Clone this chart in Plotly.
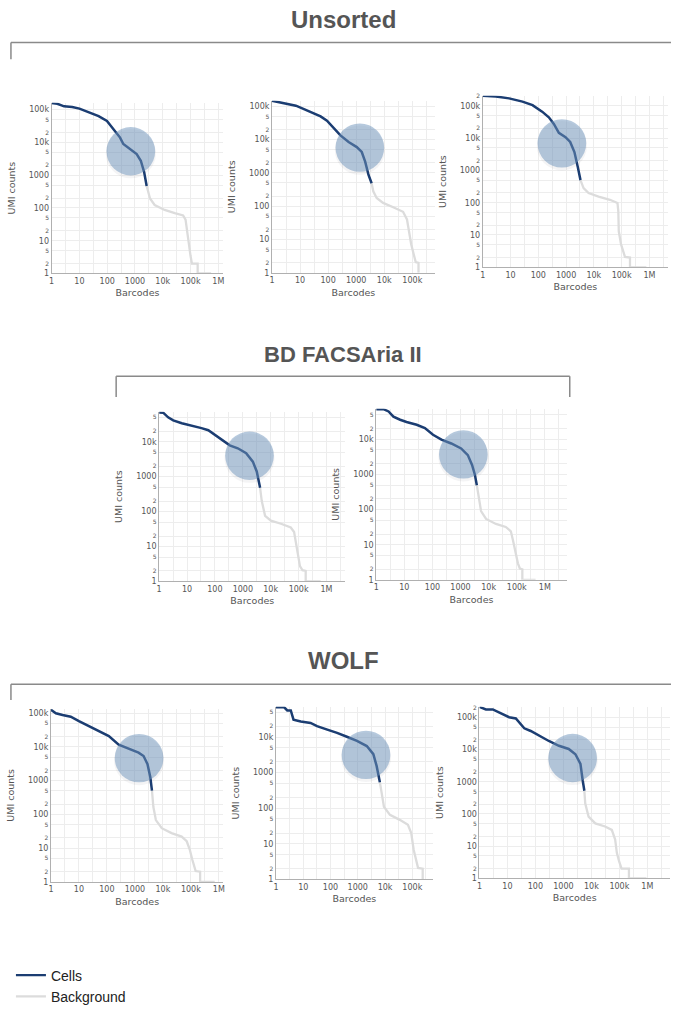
import math
import plotly.graph_objects as go

# ---------------- data ----------------
GROUP_TITLES = ["Unsorted", "BD FACSAria II", "WOLF"]
X_TITLE = "Barcodes"
Y_TITLE = "UMI counts"
SERIES_NAMES = ["Cells", "Background"]

# Unsorted, sample 1
U1_CELL_BC = [1, 1.6, 2.8, 5.5, 10, 21, 49, 98, 195, 290, 380, 660, 1150, 1620, 2140, 2630]
U1_CELL_UMI = [160000, 150000, 126000, 120000, 107000, 85000, 63000, 45000, 22000, 14000, 8900, 6300, 4400, 2750, 1230, 470]
U1_BG_BC = [2630, 3470, 5100, 11700, 27000, 54000, 66000, 74000, 85000, 100000, 112000, 180000, 180000, 550000]
U1_BG_UMI = [470, 195, 123, 87, 69, 59, 44, 19.5, 7.6, 3.4, 2, 2, 1, 1]
# Unsorted, sample 2
U2_CELL_BC = [1, 1.8, 3.5, 7.1, 13.8, 31, 54, 91, 158, 275, 537, 1050, 1580, 2090, 2750, 3550]
U2_CELL_UMI = [148000, 132000, 117000, 105000, 83000, 62000, 50000, 37000, 22400, 13500, 8500, 6000, 4270, 2190, 870, 490]
U2_BG_BC = [3550, 4070, 5370, 9100, 20900, 46800, 64600, 75900, 91200, 112000, 132000, 166000, 166000]
U2_BG_UMI = [490, 282, 178, 126, 93, 68, 40, 18, 7.2, 3.6, 2.1, 2, 1]
# Unsorted, sample 3
U3_CELL_BC = [1, 3, 8.9, 27, 62, 138, 240, 363, 550, 955, 1410, 2000, 2630, 3310]
U3_CELL_UMI = [204000, 195000, 170000, 135000, 105000, 66000, 44000, 27500, 14500, 10700, 7600, 3700, 1290, 500]
U3_BG_BC = [3310, 4270, 6460, 14800, 38000, 71000, 76000, 79000, 95500, 115000, 132000, 200000, 200000, 776000]
U3_BG_UMI = [500, 282, 200, 155, 123, 98, 54, 13, 5.1, 2.9, 2.1, 2, 1, 1]
# BD FACSAria II, sample 1
B1_CELL_BC = [1, 1.4, 2.1, 3.2, 6.5, 14.5, 33, 58, 100, 170, 340, 660, 1320, 2290, 3160, 4170]
B1_CELL_UMI = [69000, 68000, 50000, 41000, 34000, 29500, 24500, 21400, 15800, 11200, 7900, 6500, 4700, 2700, 1410, 480]
B1_BG_BC = [4170, 4790, 6300, 10200, 23400, 52500, 69000, 83000, 98000, 112000, 138000, 180000, 180000, 617000]
B1_BG_UMI = [480, 200, 76, 55, 45, 35, 26, 12, 5.1, 2.75, 2.1, 2, 1, 1]
# BD FACSAria II, sample 2
B2_CELL_BC = [1, 1.8, 2.75, 4.1, 7.1, 12, 27.5, 54, 105, 209, 468, 1050, 1820, 2570, 3240, 3800]
B2_CELL_UMI = [72000, 72000, 62000, 44000, 36000, 31000, 26000, 21000, 13500, 9800, 7600, 5500, 3550, 1860, 980, 490]
B2_BG_BC = [3800, 4470, 5370, 8100, 18200, 40700, 61700, 74000, 91200, 110000, 129000, 158000, 158000, 468000]
B2_BG_UMI = [490, 219, 91, 54, 39, 32, 24, 13, 5.6, 2.95, 2.1, 2, 1, 1]
# WOLF, sample 1
W1_CELL_BC = [1, 1.5, 2.6, 5.1, 10, 23, 51, 117, 263, 600, 1350, 2040, 2820, 3550, 4070]
W1_CELL_UMI = [126000, 100000, 89000, 79000, 58000, 41000, 30000, 21000, 11700, 8900, 6800, 5400, 3090, 1260, 510]
W1_BG_BC = [4070, 4570, 5620, 9100, 20400, 46800, 70800, 91200, 112000, 132000, 148000, 214000, 214000, 708000]
W1_BG_UMI = [510, 166, 68, 39, 28, 22, 16, 9.1, 4.6, 2.95, 2.1, 2, 1, 1]
# WOLF, sample 2
W2_CELL_BC = [1, 2, 2.6, 3.5, 4.4, 8.1, 18.6, 32, 76, 174, 398, 933, 2140, 3720, 4900, 6460]
W2_CELL_UMI = [69000, 69000, 56000, 56000, 31000, 27500, 25000, 20400, 16200, 13200, 10200, 7800, 5600, 3310, 1550, 540]
W2_BG_BC = [6460, 7400, 9100, 15100, 34700, 69000, 91200, 112000, 141000, 162000, 240000, 240000]
W2_BG_UMI = [540, 257, 110, 65, 47, 34, 20, 6.8, 3.6, 2.1, 2, 1]
# WOLF, sample 3
W3_CELL_BC = [1, 1.7, 3, 5.9, 11.5, 20, 40, 68, 135, 302, 692, 1550, 2690, 4070, 4900, 5620]
W3_CELL_UMI = [214000, 178000, 178000, 132000, 102000, 93000, 46000, 38000, 27000, 18600, 13200, 10500, 7200, 3630, 1100, 525]
W3_BG_BC = [5620, 6030, 7940, 13800, 30900, 53700, 70800, 81300, 97700, 120000, 220000, 220000, 933000]
W3_BG_UMI = [525, 214, 83, 51, 41, 32, 16, 6.2, 3.4, 2, 2, 1, 1]

# knee region highlighted by the circle (barcode, UMI)
KNEE_BC = [708, 1350, 708, 1740, 1260, 1410, 2000, 2140]
KNEE_UMI = [5370, 5750, 6900, 3980, 3720, 4680, 3160, 5500]

SAMPLES = [
    (U1_CELL_BC, U1_CELL_UMI, U1_BG_BC, U1_BG_UMI),
    (U2_CELL_BC, U2_CELL_UMI, U2_BG_BC, U2_BG_UMI),
    (U3_CELL_BC, U3_CELL_UMI, U3_BG_BC, U3_BG_UMI),
    (B1_CELL_BC, B1_CELL_UMI, B1_BG_BC, B1_BG_UMI),
    (B2_CELL_BC, B2_CELL_UMI, B2_BG_BC, B2_BG_UMI),
    (W1_CELL_BC, W1_CELL_UMI, W1_BG_BC, W1_BG_UMI),
    (W2_CELL_BC, W2_CELL_UMI, W2_BG_BC, W2_BG_UMI),
    (W3_CELL_BC, W3_CELL_UMI, W3_BG_BC, W3_BG_UMI),
]

# ---------------- layout (pixels in a 673 x 1013 page) ----------------
W, H = 673, 1013
# left px (x=1), right px, bottom px (y=1), top px, x max (log10), y max (log10)
PANELS = [
    (49.0, 222, 273.0, 100, 6.18, 5.21),
    (271.0, 435, 272.3, 98, 5.80, 5.17),
    (483.3, 670, 266.7, 93, 6.67, 5.31),
    (157.3, 345, 585.0, 413, 6.68, 4.86),
    (376.0, 568, 583.3, 410, 6.78, 4.87),
    (48.3, 222, 889.3, 714, 6.16, 5.13),
    (275.0, 433, 886.7, 712, 5.75, 4.85),
    (480.0, 672, 885.7, 712, 6.81, 5.33),
]
HEADERS = [(343, 16, 24), (343, 355, 22), (343, 665, 24)]  # x, y, font size
BRACKETS = [  # y of line, x left, x right, tick bottom, right tick?
    (39, 8, 673, 56, False),
    (377, 114, 571, 398, True),
    (689, 8, 673, 705, False),
]
CIRCLE_R = 24.5  # px

CELL_COLOR = "#1b3d72"
BG_COLOR = "#dcdcdc"
GRID_COLOR = "#ededed"
TICK_FONT = dict(family="DejaVu Sans, Verdana, sans-serif", size=8, color="#555555")
TITLE_FONT = dict(family="DejaVu Sans, Verdana, sans-serif", size=9.5, color="#555555")


def fx(p):
    return p / W


def fy(p):
    return 1 - p / H


fig = go.Figure()
layout = dict(
    width=W, height=H, margin=dict(l=0, r=0, t=0, b=0),
    paper_bgcolor="white", plot_bgcolor="white",
    showlegend=True,
    legend=dict(x=fx(8), y=fy(968), xanchor="left", yanchor="top",
                font=dict(family="Liberation Sans, Arial, sans-serif", size=14, color="#222222"),
                bgcolor="rgba(0,0,0,0)", tracegroupgap=0, itemwidth=30),
)
shapes = []
annotations = []

for i, ((cbc, cumi, bbc, bumi), (xl, xr, yb, yt, xmax, ymax)) in enumerate(zip(SAMPLES, PANELS)):
    n = i + 1
    xa = "x" if n == 1 else f"x{n}"
    ya = "y" if n == 1 else f"y{n}"
    fig.add_trace(go.Scatter(x=bbc, y=bumi, mode="lines", name=SERIES_NAMES[1],
                             line=dict(color=BG_COLOR, width=2.3), xaxis=xa, yaxis=ya,
                             showlegend=False, hoverinfo="x+y"))
    fig.add_trace(go.Scatter(x=cbc, y=cumi, mode="lines", name=SERIES_NAMES[0],
                             line=dict(color=CELL_COLOR, width=2.5), xaxis=xa, yaxis=ya,
                             showlegend=False, hoverinfo="x+y"))
    axis_common = dict(type="log", showgrid=True, gridcolor=GRID_COLOR, gridwidth=1,
                       showline=True, linecolor="#b0b0b0", linewidth=1, zeroline=False,
                       ticks="", tickfont=TICK_FONT, fixedrange=True)
    layout["xaxis" if n == 1 else f"xaxis{n}"] = dict(
        axis_common, domain=[fx(xl), fx(xr)], range=[0, xmax], dtick=1,
        anchor=ya, title=dict(text=X_TITLE, font=TITLE_FONT, standoff=4),
        minor=dict(tick0=0, dtick=0.5, showgrid=True, gridcolor=GRID_COLOR, ticks=""))
    layout["yaxis" if n == 1 else f"yaxis{n}"] = dict(
        axis_common, domain=[fy(yb), fy(yt)], range=[0, ymax], dtick="D2",
        anchor=xa, title=dict(text=Y_TITLE, font=TITLE_FONT, standoff=11))
    # highlight circle at the knee (soft shadow + circle); box computed in log space
    kx, ky = math.log10(KNEE_BC[i]), math.log10(KNEE_UMI[i])
    rx = CIRCLE_R * xmax / (xr - xl)
    ry = CIRCLE_R * ymax / (yb - yt)
    shapes.append(dict(type="circle", xref=xa, yref=ya,
                       x0=10 ** (kx - rx * 1.03), x1=10 ** (kx + rx * 1.03),
                       y0=10 ** (ky - ry * 1.12), y1=10 ** (ky + ry * 0.92),
                       fillcolor="rgba(60,70,90,0.06)", line=dict(width=0), layer="above"))
    shapes.append(dict(type="circle", xref=xa, yref=ya,
                       x0=10 ** (kx - rx), x1=10 ** (kx + rx),
                       y0=10 ** (ky - ry), y1=10 ** (ky + ry),
                       fillcolor="rgba(110,148,188,0.5)", line=dict(width=0), layer="above"))

# legend entries
fig.add_trace(go.Scatter(x=[None], y=[None], mode="lines", name=SERIES_NAMES[0],
                         line=dict(color=CELL_COLOR, width=2.2), showlegend=True))
fig.add_trace(go.Scatter(x=[None], y=[None], mode="lines", name=SERIES_NAMES[1],
                         line=dict(color=BG_COLOR, width=2.2), showlegend=True))

for (hx, hy, hs), text in zip(HEADERS, GROUP_TITLES):
    annotations.append(dict(x=fx(hx), y=fy(hy), xref="paper", yref="paper", text=f"<b>{text}</b>",
                            showarrow=False, xanchor="center", yanchor="middle",
                            font=dict(family="Liberation Sans, Arial, sans-serif", size=hs, color="#555555")))

for (ly, lx0, lx1, tb, right_tick) in BRACKETS:
    shapes.append(dict(type="line", xref="paper", yref="paper", x0=fx(lx0), x1=fx(lx1), y0=fy(ly), y1=fy(ly),
                       line=dict(color="#8a8a8a", width=1.5)))
    shapes.append(dict(type="line", xref="paper", yref="paper", x0=fx(lx0), x1=fx(lx0), y0=fy(ly), y1=fy(tb),
                       line=dict(color="#8a8a8a", width=1.5)))
    if right_tick:
        shapes.append(dict(type="line", xref="paper", yref="paper", x0=fx(lx1), x1=fx(lx1), y0=fy(ly), y1=fy(tb),
                           line=dict(color="#8a8a8a", width=1.5)))

layout["shapes"] = shapes
layout["annotations"] = annotations
fig.update_layout(**layout)
fig.write_html(
    "out.html", config={"displayModeBar": False},
    post_script=("document.documentElement.style.overflow='hidden';"
                 "document.body.style.margin='0';document.body.style.overflow='hidden';"
                 "var gd=document.querySelector('.plotly-graph-div');"
                 "gd.style.position='fixed';gd.style.top='0px';gd.style.left='0px';"
                 "gd.style.overflow='hidden';"))
